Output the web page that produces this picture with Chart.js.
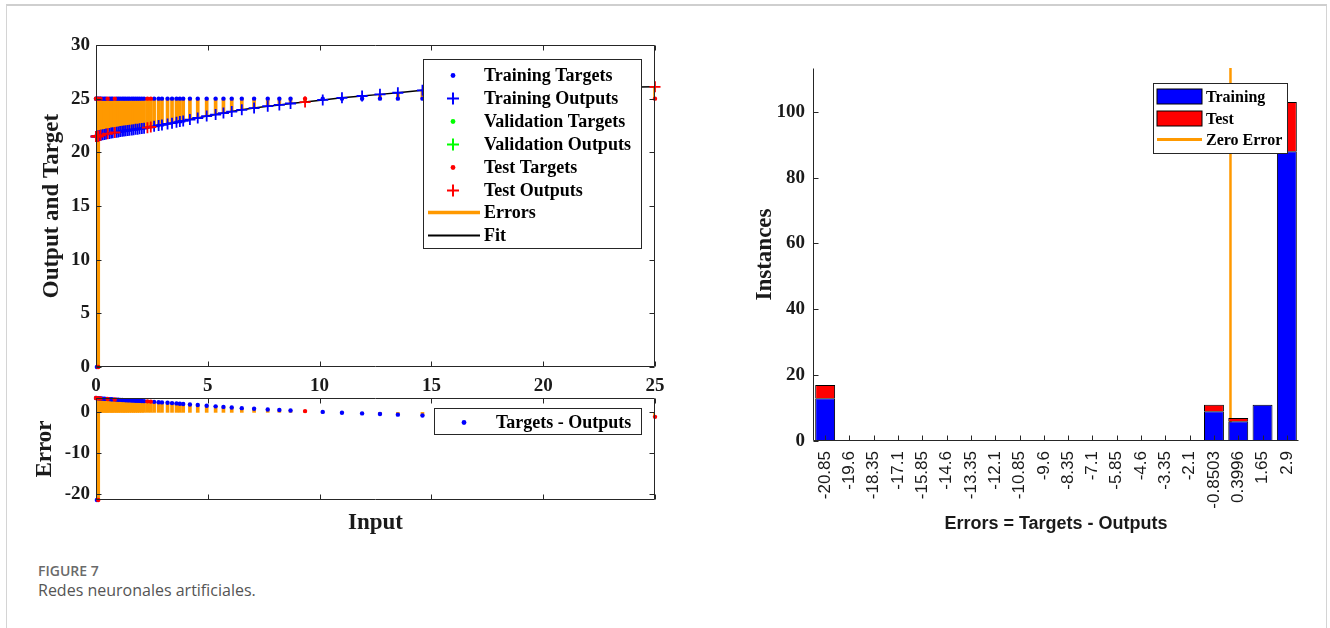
<!DOCTYPE html>
<html>
<head>
<meta charset="utf-8">
<script src="https://cdn.jsdelivr.net/npm/chart.js@4.4.1/dist/chart.umd.min.js"></script>
<style>
  html, body { margin: 0; padding: 0; background: #fff; }
  body { width: 1330px; height: 628px; position: relative; overflow: hidden; }
  .card { position: absolute; left: 6px; top: 4px; width: 1319px; height: 640px;
          border: 1px solid #d4d4d4; border-top: 2px solid #cfcfcf; border-bottom: none; }
  canvas { position: absolute; }
  #fit { left: 0; top: 0; }
  #err { left: 0; top: 380px; }
  #hist { left: 700px; top: 40px; }
  .caption { position: absolute; left: 38px; top: 562px; font-family: "Open Sans", sans-serif; }
  .caption .lab { font-size: 14px; font-weight: 600; color: #6a6a6a; line-height: 18px; }
  .caption .txt { font-size: 16px; color: #555; line-height: 20px; }
</style>
</head>
<body>
<div class="card"></div>
<canvas id="fit" width="680" height="400"></canvas>
<canvas id="err" width="680" height="170"></canvas>
<canvas id="hist" width="620" height="520"></canvas>
<div class="caption">
  <div class="lab">FIGURE 7</div>
  <div class="txt">Redes neuronales artificiales.</div>
</div>
<script>
// ---- data ----
const trainX = [0.04, 0, 0.04, 0.1, 0.16, 0.22, 0.3, 0.38, 0.45, 0.6, 0.68, 0.75, 0.92, 1.0, 1.08, 1.17, 1.25, 1.33,
  1.42, 1.5, 1.6, 1.68, 1.77, 1.86, 1.95, 2.05, 2.15, 2.6, 2.8, 2.95, 3.2, 3.4, 3.6, 3.75, 3.9, 4.2, 4.55, 4.95,
  5.35, 5.7, 6.07, 6.52, 7.07, 7.68, 8.2, 8.7, 10.14, 11.0, 11.9, 12.7, 13.5, 14.6];
const trainTarget = [0, 25, 25, 25, 25, 25, 25, 25, 25, 25, 25, 25, 25, 25, 25, 25, 25, 25,
  25, 25, 25, 25, 25, 25, 25, 25, 25, 25, 25, 25, 25, 25, 25, 25, 25, 25, 25, 25,
  25, 25, 25, 25, 25, 25, 25, 25, 25, 25, 25, 25, 25, 25];
const trainOutput = [21.475, 21.475, 21.5, 21.53, 21.56, 21.6, 21.63, 21.67, 21.7, 21.76, 21.79, 21.82, 21.88, 21.9,
  21.93, 21.96, 21.99, 22.01, 22.04, 22.06, 22.09, 22.11, 22.14, 22.16, 22.19, 22.22, 22.25, 22.42, 22.5, 22.55,
  22.65, 22.72, 22.8, 22.87, 22.93, 23.05, 23.2, 23.38, 23.52, 23.66, 23.8, 23.96, 24.12, 24.3, 24.42, 24.55,
  24.88, 25.08, 25.25, 25.4, 25.55, 25.78];

const testX = [0.1, 0, 0.08, 0.2, 0.52, 0.84, 2.3, 2.45, 9.35, 25];
const testTarget = [0, 25, 25, 25, 25, 25, 25, 25, 25, 25];
const testOutput = [21.475, 21.475, 21.52, 21.59, 21.73, 21.85, 22.3, 22.36, 24.68, 26.1];

const fitXTicks = [0, 5, 10, 15, 20, 25];
const fitYTicks = [0, 5, 10, 15, 20, 25, 30];
const errYTicks = [-20, -10, 0];

// error histogram (20 bins)
const binLabels = ['-20.85', '-19.6', '-18.35', '-17.1', '-15.85', '-14.6', '-13.35', '-12.1', '-10.85', '-9.6',
  '-8.35', '-7.1', '-5.85', '-4.6', '-3.35', '-2.1', '-0.8503', '0.3996', '1.65', '2.9'];
const trainCounts = [13, 0, 0, 0, 0, 0, 0, 0, 0, 0, 0, 0, 0, 0, 0, 0, 9, 6, 11, 88];
const testCounts = [4, 0, 0, 0, 0, 0, 0, 0, 0, 0, 0, 0, 0, 0, 0, 0, 2, 1, 0, 15];
const histYTicks = [0, 20, 40, 60, 80, 100];
const histYMax = 113.3;

const BLUE = '#0000ff', RED = '#ff0000', GREEN = '#00ff00', ORANGE = '#ff9900';
const SERIF = '"Liberation Serif", "Times New Roman", serif';
const SANS = '"Liberation Sans", Arial, sans-serif';
const INK = '#1a1a1a';

Chart.defaults.font.family = SERIF;
Chart.defaults.color = INK;

const pts = (xs, ys) => xs.map((x, i) => ({ x: x, y: ys[i] }));
const setTicks = arr => scale => { scale.ticks = arr.map(v => ({ value: v })); };

const allX = trainX.concat(testX);
const allTarget = trainTarget.concat(testTarget);
const allOutput = trainOutput.concat(testOutput);
const trainErr = trainTarget.map((t, i) => t - trainOutput[i]);
const testErr = testTarget.map((t, i) => t - testOutput[i]);
const allErr = trainErr.concat(testErr);

// MATLAB style box and inward ticks
const frame = {
  id: 'frame',
  afterDatasetsDraw(chart, args, opts) {
    const a = chart.chartArea, ctx = chart.ctx, len = 5;
    const L = Math.round(a.left) + 0.5, R = Math.round(a.right) - 0.5;
    const T = Math.round(a.top) + 0.5, B = Math.round(a.bottom) - 0.5;
    ctx.save();
    ctx.strokeStyle = '#262626';
    ctx.lineWidth = 1;
    ctx.beginPath();
    if (opts.box) {
      ctx.rect(L, T, R - L, B - T);
    } else {
      ctx.moveTo(L, T); ctx.lineTo(L, B); ctx.lineTo(R, B);
    }
    const xs = chart.scales.x, ys = chart.scales.y;
    xs.ticks.forEach((t, i) => {
      const p = Math.round(xs.getPixelForTick(i)) + 0.5;
      ctx.moveTo(p, B); ctx.lineTo(p, B - len);
      if (opts.box) { ctx.moveTo(p, T); ctx.lineTo(p, T + len); }
    });
    ys.ticks.forEach((t, i) => {
      const p = Math.round(ys.getPixelForTick(i)) + 0.5;
      ctx.moveTo(L, p); ctx.lineTo(L + len, p);
      if (opts.box) { ctx.moveTo(R, p); ctx.lineTo(R - len, p); }
    });
    ctx.stroke();
    ctx.restore();
  }
};

// boxed legend drawn from the datasets that carry a "mark"
const boxLegend = {
  id: 'boxLegend',
  afterDraw(chart, args, o) {
    if (!o.box) return;
    const ctx = chart.ctx;
    const [bx, by, bw, bh] = o.box;
    ctx.save();
    ctx.fillStyle = '#fff';
    ctx.fillRect(bx, by, bw, bh);
    ctx.strokeStyle = '#262626';
    ctx.lineWidth = 1;
    ctx.strokeRect(bx + 0.5, by + 0.5, bw, bh);
    ctx.font = o.font;
    ctx.textBaseline = 'middle';
    chart.data.datasets.filter(d => d.mark).forEach((d, i) => {
      const cy = Math.round(by + o.first + i * o.row) + 0.5;
      const mx = bx + o.markX;
      const col = d.type === 'bar' || d.mark === 'dot' || d.mark === 'rect' ? d.backgroundColor : d.borderColor;
      if (d.mark === 'dot') {
        ctx.fillStyle = col;
        ctx.beginPath(); ctx.arc(mx, cy, 2.4, 0, Math.PI * 2); ctx.fill();
      } else if (d.mark === 'plus') {
        ctx.strokeStyle = col; ctx.lineWidth = 2;
        ctx.beginPath();
        ctx.moveTo(mx - 6, cy); ctx.lineTo(mx + 6, cy);
        ctx.moveTo(mx, cy - 6); ctx.lineTo(mx, cy + 6);
        ctx.stroke();
      } else if (d.mark === 'line') {
        ctx.strokeStyle = col; ctx.lineWidth = d.legendWidth || 2;
        ctx.beginPath(); ctx.moveTo(bx + o.from, cy); ctx.lineTo(bx + o.to, cy); ctx.stroke();
      } else if (d.mark === 'rect') {
        ctx.fillStyle = col;
        ctx.fillRect(bx + o.from, cy - 7.5, o.to - o.from, 15);
        ctx.strokeStyle = '#000'; ctx.lineWidth = 1;
        ctx.strokeRect(bx + o.from, cy - 7.5, o.to - o.from, 15);
      }
      ctx.fillStyle = '#000';
      ctx.fillText(d.label, bx + o.textX, cy + 1);
    });
    ctx.restore();
  }
};

const tickFont = { family: SERIF, size: 19, weight: 'bold' };
const titleFont = { family: SERIF, size: 23, weight: 'bold' };

// ---- top: output and target vs input ----
new Chart('fit', {
  type: 'scatter',
  data: {
    datasets: [
      { label: 'Training Targets', data: pts(trainX, trainTarget), backgroundColor: BLUE, borderWidth: 0,
        pointRadius: 2.2, mark: 'dot', order: 4, clip: false },
      { label: 'Training Outputs', data: pts(trainX, trainOutput), pointStyle: 'cross', borderColor: BLUE,
        borderWidth: 1.8, pointRadius: 5.5, mark: 'plus', order: 2, clip: false },
      { label: 'Validation Targets', data: [], backgroundColor: GREEN, borderWidth: 0, pointRadius: 2.2, mark: 'dot' },
      { label: 'Validation Outputs', data: [], pointStyle: 'cross', borderColor: GREEN, pointRadius: 5.5, mark: 'plus' },
      { label: 'Test Targets', data: pts(testX, testTarget), backgroundColor: RED, borderWidth: 0,
        pointRadius: 2.2, mark: 'dot', order: 3, clip: false },
      { label: 'Test Outputs', data: pts(testX, testOutput), pointStyle: 'cross', borderColor: RED,
        borderWidth: 1.8, pointRadius: 5.5, mark: 'plus', order: 1, clip: false },
      { type: 'bar', label: 'Errors', data: allX.map((x, i) => ({ x: x, y: [allTarget[i], allOutput[i]] })),
        backgroundColor: ORANGE, barThickness: 3, grouped: false, mark: 'line', legendWidth: 3.5, order: 10 },
      { type: 'line', label: 'Fit', data: pts(allX, allOutput).sort((a, b) => a.x - b.x),
        borderColor: '#000', borderWidth: 1.5, pointRadius: 0, tension: 0, mark: 'line', legendWidth: 2, order: 9 }
    ]
  },
  options: {
    responsive: false,
    animation: false,
    layout: { padding: { left: 0, right: 25, top: 45, bottom: 0 } },
    scales: {
      x: {
        type: 'linear', min: 0, max: 25, offset: false,
        afterBuildTicks: setTicks(fitXTicks),
        afterFit: s => { s.height = 33; },
        grid: { display: false, drawTicks: false, offset: false }, border: { display: false },
        ticks: { font: tickFont, color: INK, padding: 8, autoSkip: false, maxRotation: 0 }
      },
      y: {
        min: 0, max: 30,
        afterBuildTicks: setTicks(fitYTicks),
        afterFit: s => { s.width = 96; },
        grid: { display: false, drawTicks: false }, border: { display: false },
        ticks: { font: tickFont, color: INK, padding: 6 },
        title: { display: true, text: 'Output and Target', font: titleFont, color: INK, padding: { top: 38, bottom: 0 } }
      }
    },
    plugins: {
      legend: { display: false },
      tooltip: { enabled: false },
      frame: { box: true },
      boxLegend: { box: [423, 59, 218, 189], first: 16, row: 22.9, markX: 30, textX: 61, from: 5, to: 57,
        font: 'bold 18px ' + SERIF }
    }
  },
  plugins: [frame, boxLegend]
});

// ---- bottom: error vs input ----
new Chart('err', {
  type: 'scatter',
  data: {
    datasets: [
      { label: 'Targets - Outputs', data: pts(trainX, trainErr), backgroundColor: BLUE, borderWidth: 0,
        pointRadius: 2.2, mark: 'dot', order: 2, clip: false },
      { label: 'Test errors', data: pts(testX, testErr), backgroundColor: RED, borderWidth: 0,
        pointRadius: 2.2, order: 1, clip: false },
      { type: 'bar', label: 'Errors', data: allX.map((x, i) => ({ x: x, y: [0, allErr[i]] })),
        backgroundColor: ORANGE, barThickness: 3, grouped: false, order: 10 }
    ]
  },
  options: {
    responsive: false,
    animation: false,
    layout: { padding: { left: 0, right: 25, top: 18, bottom: 0 } },
    scales: {
      x: {
        type: 'linear', min: 0, max: 25, offset: false,
        afterBuildTicks: setTicks(fitXTicks),
        afterFit: s => { s.height = 50; },
        grid: { display: false, drawTicks: false, offset: false }, border: { display: false },
        ticks: { display: false },
        title: { display: true, text: 'Input', font: titleFont, color: INK, padding: { top: 0, bottom: 13 } }
      },
      y: {
        min: Math.min(...allErr), max: Math.max(...allErr),
        afterBuildTicks: setTicks(errYTicks),
        afterFit: s => { s.width = 96; },
        grid: { display: false, drawTicks: false }, border: { display: false },
        ticks: { font: tickFont, color: INK, padding: 6 },
        title: { display: true, text: 'Error', font: titleFont, color: INK, padding: { top: 31, bottom: 0 } }
      }
    },
    plugins: {
      legend: { display: false },
      tooltip: { enabled: false },
      frame: { box: true },
      boxLegend: { box: [434, 28, 207, 26], first: 14, row: 22, markX: 30, textX: 62, from: 5, to: 57,
        font: 'bold 18px ' + SERIF }
    }
  },
  plugins: [frame, boxLegend]
});

// ---- right: error histogram ----
const binCentres = binLabels.map(Number);
const binHalf = (binCentres[1] - binCentres[0]) / 2;
const histBar = { borderColor: '#000', borderWidth: 1, grouped: false, categoryPercentage: 1, barPercentage: 0.82 };

new Chart('hist', {
  type: 'bar',
  data: {
    labels: binLabels,
    datasets: [
      Object.assign({ label: 'Training', data: trainCounts.map(v => v || null), backgroundColor: BLUE, mark: 'rect' }, histBar),
      Object.assign({ label: 'Test', data: testCounts.map(v => v || null), backgroundColor: RED, mark: 'rect' }, histBar),
      { type: 'line', label: 'Zero Error', xAxisID: 'x2',
        data: [{ x: 0, y: 0 }, { x: 0, y: histYMax }],
        borderColor: ORANGE, borderWidth: 2.5, pointRadius: 0, mark: 'line', legendWidth: 3 }
    ]
  },
  options: {
    responsive: false,
    animation: false,
    layout: { padding: { left: 0, right: 21, top: 28, bottom: 0 } },
    scales: {
      x: {
        stacked: true,
        afterFit: s => { s.height = 119; },
        grid: { display: false, drawTicks: false }, border: { display: false },
        ticks: { font: { family: SANS, size: 17 }, color: INK, padding: 10, autoSkip: false,
          minRotation: 90, maxRotation: 90 },
        title: { display: true, text: 'Errors = Targets - Outputs', font: { family: SANS, size: 18, weight: 'bold' },
          color: INK, padding: { top: 0, bottom: 25 } }
      },
      x2: {
        type: 'linear', display: false, offset: false,
        min: binCentres[0] - binHalf, max: binCentres[binCentres.length - 1] + binHalf
      },
      y: {
        stacked: true, min: 0, max: histYMax,
        afterBuildTicks: setTicks(histYTicks),
        afterFit: s => { s.width = 113; },
        grid: { display: false, drawTicks: false }, border: { display: false },
        ticks: { font: tickFont, color: INK, padding: 8 },
        title: { display: true, text: 'Instances', font: titleFont, color: INK, padding: { top: 51, bottom: 0 } }
      }
    },
    plugins: {
      legend: { display: false },
      tooltip: { enabled: false },
      frame: { box: false },
      boxLegend: { box: [453, 43, 134, 70], first: 13, row: 21.5, markX: 26, textX: 53, from: 4, to: 49,
        font: 'bold 16px ' + SERIF }
    }
  },
  plugins: [frame, boxLegend]
});
</script>
</body>
</html>
